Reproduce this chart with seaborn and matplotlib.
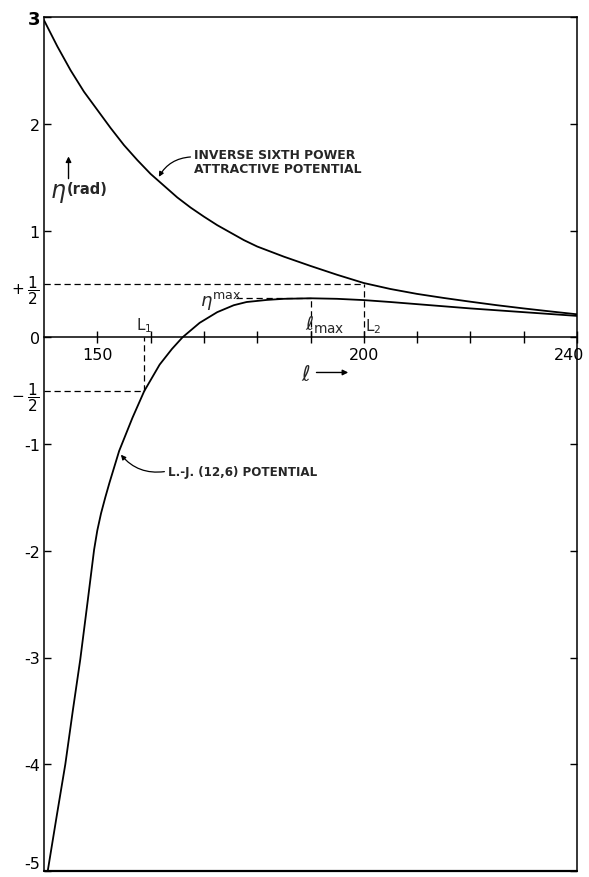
import numpy as np
import pandas as pd
import matplotlib
matplotlib.use("Agg")
import matplotlib.pyplot as plt
import matplotlib.transforms as mtransforms
import seaborn as sns

# phase shift eta (rad) vs angular momentum l
upper_l = [140, 142.5, 145, 147.5, 150, 152.5, 155, 157.5, 160, 162.5, 165, 167.5,
           170, 172.5, 175, 177.5, 180, 185, 190, 195, 200, 205, 210, 215, 220,
           225, 230, 235, 240]
upper_eta = [2.97, 2.725, 2.50, 2.30, 2.13, 1.96, 1.80, 1.66, 1.53, 1.42, 1.31, 1.215,
             1.13, 1.05, 0.98, 0.91, 0.85, 0.755, 0.668, 0.585, 0.508, 0.452, 0.406,
             0.368, 0.333, 0.30, 0.27, 0.242, 0.215]

lower_l = [140.7, 142.4, 144.0, 145.4, 146.8, 148.2, 149.4, 150.0, 150.7, 151.5,
           152.3, 154.1, 156.6, 158.8, 161.7, 164.0, 166.0, 169.2, 172.5, 175.6,
           178.0, 181.9, 185.0, 190.0, 195.0, 200.0, 205.0, 210.0, 220.0, 230.0,
           240.0]
lower_eta = [-5.0, -4.48, -4.0, -3.5, -3.02, -2.47, -1.99, -1.81, -1.65, -1.50,
             -1.36, -1.065, -0.754, -0.505, -0.256, -0.11, 0.0, 0.135, 0.235, 0.30,
             0.33, 0.35, 0.36, 0.365, 0.36, 0.348, 0.33, 0.31, 0.27, 0.235, 0.20]

# marked values
L1 = 158.8
L2 = 200.0
l_max = 190.0
eta_max = 0.365
half = 0.5

x_ticks = [150, 160, 170, 180, 190, 200, 210, 220, 230, 240]
x_labels = ["150", "", "", "", "", "200", "", "", "", "240"]
y_ticks = [3, 2, 1, 0, -1, -2, -3, -4, -5]
y_labels = ["3", "2", "1", "0", "-1", "-2", "-3", "-4", "-5"]
y_half_ticks = [0.5, -0.5]
y_half_labels = [r"$+\;\dfrac{1}{2}$", r"$-\;\dfrac{1}{2}$"]

sns.set_theme(style="ticks")
plt.rcParams["font.family"] = ["DejaVu Sans"]
plt.rcParams["mathtext.fontset"] = "dejavusans"

fig = plt.figure(figsize=(5.89, 8.78), dpi=100)
ax = fig.add_axes([44 / 589, 6 / 878, 533 / 589, 854 / 878])

sns.lineplot(x=upper_l, y=upper_eta, color="black", lw=1.3, ax=ax)
sns.lineplot(x=lower_l, y=lower_eta, color="black", lw=1.3, ax=ax)

ax.set_xlim(140, 240)
ax.set_ylim(-5, 3)

# box + x axis drawn through eta = 0
for s in ["left", "right", "top", "bottom"]:
    ax.spines[s].set_color("black")
    ax.spines[s].set_linewidth(1.1)
    ax.spines[s].set_visible(True)
ax.spines["bottom"].set_position(("data", 0))
ax.axhline(-5, color="black", lw=1.6, clip_on=False)

ax.set_xticks(x_ticks)
ax.set_xticklabels(x_labels)
ax.set_yticks(y_ticks)
ax.set_yticklabels(y_labels)
ax.set_yticks(y_half_ticks, minor=True)
ax.set_yticklabels(y_half_labels, minor=True)
ax.tick_params(axis="x", direction="inout", length=8, width=1, pad=3,
               labelsize=11.5, colors="black")
ax.tick_params(axis="y", which="major", direction="in", length=5, width=1,
               left=True, right=True, pad=3, labelsize=11.5, colors="black")
ax.tick_params(axis="y", which="minor", length=0, pad=3, labelsize=11,
               colors="black")

# keep the 240 and -5 labels inside the picture
for lab in ax.get_xticklabels():
    if lab.get_text() == "240":
        lab.set_transform(lab.get_transform()
                          + mtransforms.ScaledTranslation(-6 / 72, 0, fig.dpi_scale_trans))
for lab in ax.get_yticklabels():
    if lab.get_text() == "-5":
        lab.set_verticalalignment("bottom")
    if lab.get_text() == "3":
        lab.set_fontsize(13)
        lab.set_fontweight("bold")

dash = (0, (5, 3))
ax.hlines(half, 140, L2, colors="black", lw=0.9, linestyles=dash)
ax.vlines(L2, 0, half, colors="black", lw=0.9, linestyles=dash)
ax.hlines(-half, 140, L1, colors="black", lw=0.9, linestyles=dash)
ax.vlines(L1, -half, 0, colors="black", lw=0.9, linestyles=dash)
ax.hlines(eta_max, 176, l_max, colors="black", lw=0.9, linestyles=dash)
ax.vlines(l_max, 0, eta_max, colors="black", lw=0.9, linestyles=dash)

# labels on the curves
ax.text(168.2, 1.645, "INVERSE SIXTH POWER\nATTRACTIVE POTENTIAL",
        fontsize=8.9, fontweight="bold", ha="left", va="center", linespacing=1.1)
ax.annotate("", xy=(161.3, 1.48), xytext=(168.0, 1.69),
            arrowprops=dict(arrowstyle="-|>", color="black", lw=0.9,
                            mutation_scale=7, connectionstyle="arc3,rad=0.3"))
ax.text(163.3, -1.255, "L.-J. (12,6) POTENTIAL", fontsize=8.6,
        fontweight="bold", ha="left", va="center")
ax.annotate("", xy=(154.1, -1.08), xytext=(163.1, -1.255),
            arrowprops=dict(arrowstyle="-|>", color="black", lw=0.9,
                            mutation_scale=7, connectionstyle="arc3,rad=-0.3"))

ax.text(142.7, 1.36, r"$\eta$", fontsize=17, ha="center", va="center")
ax.text(144.2, 1.39, "(rad)", fontsize=10.5, fontweight="bold",
        ha="left", va="center")
ax.annotate("", xy=(144.6, 1.72), xytext=(144.6, 1.46),
            arrowprops=dict(arrowstyle="-|>", color="black", lw=1,
                            mutation_scale=8))

ax.text(188.3, -0.34, r"$\ell$", fontsize=15, ha="left", va="center")
ax.annotate("", xy=(197.6, -0.33), xytext=(190.6, -0.33),
            arrowprops=dict(arrowstyle="-|>", color="black", lw=1,
                            mutation_scale=8))

ax.text(L1, 0.03, r"L$_{1}$", fontsize=11, ha="center", va="bottom")
ax.text(L2 + 0.2, 0.02, r"L$_{2}$", fontsize=11, ha="left", va="bottom")
ax.text(l_max - 1.0, 0.02, r"$\ell_{\rm max}$", fontsize=14, ha="left",
        va="bottom")
ax.text(169.2, 0.25, r"$\eta^{\rm max}$", fontsize=13, ha="left", va="bottom")

ax.set_xlabel("")
ax.set_ylabel("")
fig.savefig("out.png", dpi=100)
